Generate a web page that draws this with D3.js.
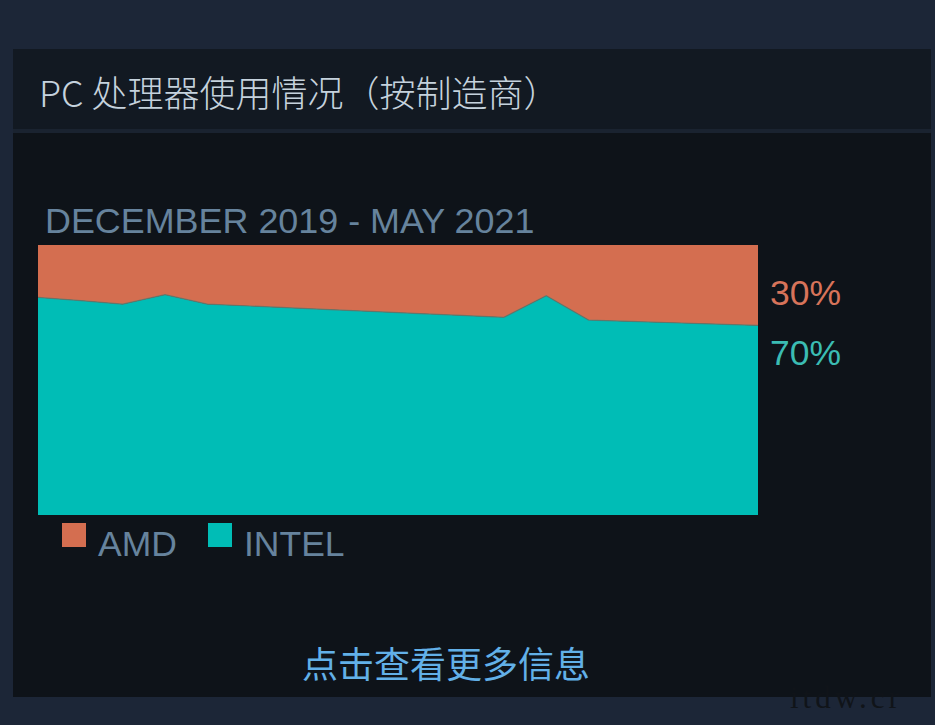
<!DOCTYPE html>
<html>
<head>
<meta charset="utf-8">
<script src="https://cdn.jsdelivr.net/npm/d3@7/dist/d3.min.js"></script>
<style>
  html, body { margin: 0; padding: 0; background: #1c2637; }
  svg { display: block; }
</style>
</head>
<body>
<svg id="chart" width="935" height="725"></svg>
<script>
// ---- data ----
const months = ["2019-12","2020-01","2020-02","2020-03","2020-04","2020-05","2020-06","2020-07","2020-08",
                "2020-09","2020-10","2020-11","2020-12","2021-01","2021-02","2021-03","2021-04","2021-05"];
const amdShare   = [19.4, 20.6, 21.9, 18.4, 21.9, 22.6, 23.3, 24.0, 24.7, 25.4, 26.1, 26.8, 18.8, 27.8, 28.3, 28.8, 29.3, 29.8];
const intelShare = amdShare.map(v => +(100 - v).toFixed(1));
const seriesNames = ["AMD", "INTEL"];
const seriesColors = ["#d46e50", "#00bdb6"];
const labelColors = ["#d7735a", "#3bbcb3"];
const endLabels = ["30%", "70%"];
const titleText = "PC 处理器使用情况（按制造商）";
const rangeText = "DECEMBER 2019 - MAY 2021";
const linkText = "点击查看更多信息";

// ---- layout ----
const svg = d3.select("#chart");
const cjk = "'Noto Sans CJK SC', 'Noto Sans', sans-serif";
const latin = "'Liberation Sans', Arial, sans-serif";

// panel
svg.append("rect").attr("x", 13).attr("y", 49).attr("width", 918).attr("height", 80).attr("fill", "#121922");
svg.append("rect").attr("x", 13).attr("y", 129).attr("width", 918).attr("height", 4).attr("fill", "#1a2330");
svg.append("rect").attr("x", 13).attr("y", 133).attr("width", 918).attr("height", 564).attr("fill", "#0e1319");

svg.append("text").attr("x", 39).attr("y", 107).attr("fill", "#c5d2dd")
  .attr("font-family", cjk).attr("font-size", 36).attr("font-weight", 300).text(titleText);

svg.append("text").attr("x", 45).attr("y", 233).attr("fill", "#66839d")
  .attr("font-family", latin).attr("font-size", 35.9).text(rangeText);

// chart
const x = d3.scalePoint().domain(months).range([38, 758]);
const y = d3.scaleLinear().domain([0, 100]).range([515, 245]);

const table = months.map((m, i) => ({ month: m, INTEL: intelShare[i], AMD: amdShare[i] }));
const stack = d3.stack().keys(["INTEL", "AMD"]);
const layers = stack(table);

const area = d3.area()
  .x(d => x(d.data.month))
  .y0(d => y(d[0]))
  .y1(d => y(d[1]));

const colorOf = k => seriesColors[seriesNames.indexOf(k)];

svg.append("g").selectAll("path").data(layers).join("path")
  .attr("d", area)
  .attr("fill", d => colorOf(d.key));

// thin boundary line
const line = d3.line().x(d => x(d.data.month)).y(d => y(d[1]));
svg.append("path").datum(layers[0]).attr("d", line)
  .attr("fill", "none").attr("stroke", "#5b7a70").attr("stroke-width", 1.2).attr("opacity", 0.8);

// end labels
svg.append("text").attr("x", 770).attr("y", 305).attr("fill", labelColors[0])
  .attr("font-family", latin).attr("font-size", 35.5).text(endLabels[0]);
svg.append("text").attr("x", 770).attr("y", 365).attr("fill", labelColors[1])
  .attr("font-family", latin).attr("font-size", 35.5).text(endLabels[1]);

// legend
const legendX = [62, 208];
seriesNames.forEach((n, i) => {
  svg.append("rect").attr("x", legendX[i]).attr("y", 523).attr("width", 24).attr("height", 24).attr("fill", seriesColors[i]);
  svg.append("text").attr("x", legendX[i] + 36).attr("y", 556).attr("fill", "#66839d")
    .attr("font-family", latin).attr("font-size", 35.5).text(n);
});

// link
svg.append("text").attr("x", 446).attr("y", 678).attr("text-anchor", "middle").attr("fill", "#62b0e8")
  .attr("font-family", cjk).attr("font-size", 36).text(linkText);

// watermark
svg.append("text").attr("x", 790).attr("y", 708).attr("fill", "#101419")
  .attr("font-family", "'Liberation Serif', 'DejaVu Serif', serif").attr("font-size", 31)
  .attr("letter-spacing", 4).text("itdw.cr");
</script>
</body>
</html>
